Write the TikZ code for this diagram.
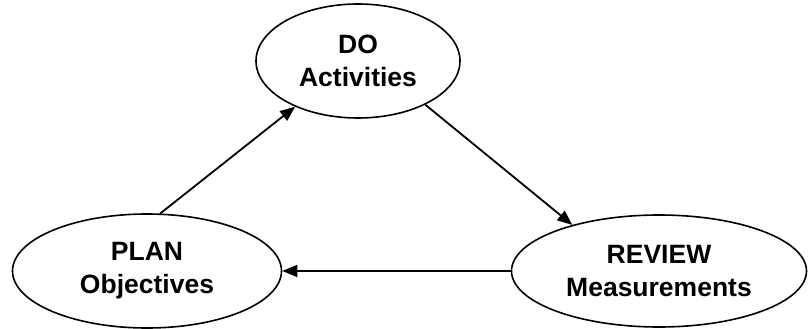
\documentclass[tikz,border=0pt]{standalone}
\usepackage{fontspec}
\setmainfont{Liberation Sans}
\usetikzlibrary{arrows.meta,shapes.geometric}

\begin{document}
\begin{tikzpicture}[x=1pt, y=-1pt,
    stage/.style={ellipse, draw, line width=1.6pt, inner sep=0pt, align=center,
      font=\fontsize{26.5}{33}\selectfont\bfseries},
    flow/.style={line width=1.8pt, -{Triangle[length=15pt,width=12pt]}}]
      \useasboundingbox (0,0) rectangle (808,329);

      % Three stages of the cycle
      \node[stage, minimum width=204pt, minimum height=114pt] (do) at (358,61) {
        DO\\
        Activities
      };

      \node[stage, minimum width=269pt, minimum height=114pt] (plan) at (147,271) {
        PLAN\\
        Objectives
      };

      \node[stage, minimum width=295pt, minimum height=112pt] (review) at (659,271) {
        REVIEW\\
        Measurements
      };

      % Arrows between the stages
      \draw[flow] (plan.77) -- (do.216);
      \draw[flow] (do.327) -- (review.152);
      \draw[flow] (review.west) -- (plan.east);
    \end{tikzpicture}
\end{document}
